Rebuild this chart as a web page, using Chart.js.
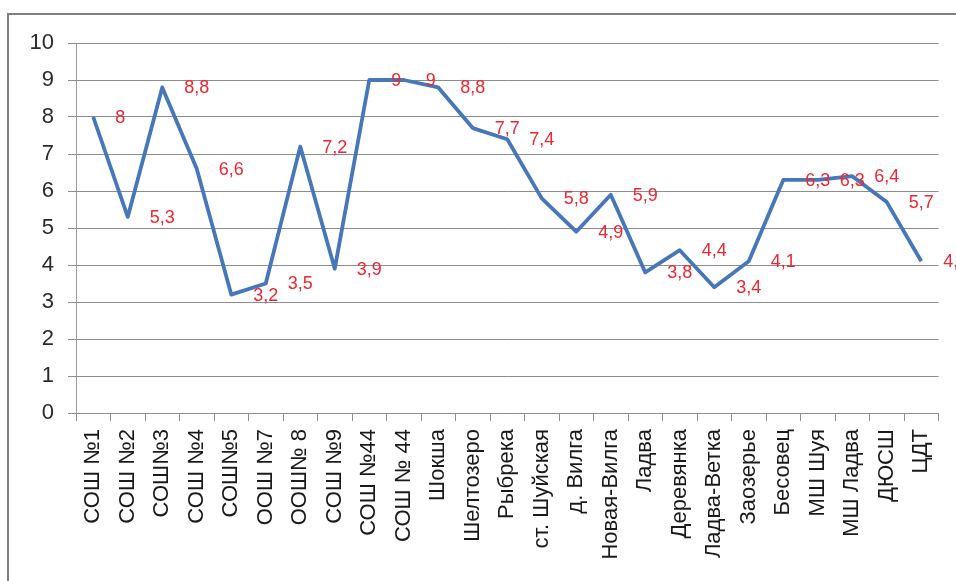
<!DOCTYPE html>
<html>
<head>
<meta charset="utf-8">
<script src="https://cdn.jsdelivr.net/npm/chart.js@4"></script>
<style>
    body { margin: 0; background: #fff; overflow: hidden; }
    #frame { position: absolute; left: 7px; top: 13px; width: 1000px; height: 640px; border: 2px solid #7f7f7f; }
    #chart { position: absolute; left: 0; top: 0; }
</style>
</head>
<body>
<div id="frame"></div>
<canvas id="chart" width="956" height="581"></canvas>
<script>
// schools
const categories = ['СОШ №1', 'СОШ №2', 'СОШ№3', 'СОШ №4', 'СОШ№5', 'ООШ №7', 'ООШ№ 8', 'СОШ №9',
    'СОШ №44', 'СОШ № 44', 'Шокша', 'Шелтозеро', 'Рыбрека', 'ст. Шуйская', 'д. Вилга', 'Новая-Вилга',
    'Ладва', 'Деревянка', 'Ладва-Ветка', 'Заозерье', 'Бесовец', 'МШ Шуя', 'МШ Ладва', 'ДЮСШ', 'ЦДТ'];
const values = [8, 5.3, 8.8, 6.6, 3.2, 3.5, 7.2, 3.9, 9, 9, 8.8, 7.7, 7.4, 5.8, 4.9, 5.9,
    3.8, 4.4, 3.4, 4.1, 6.3, 6.3, 6.4, 5.7, 4.1];
const yMin = 0;
const yMax = 10;
const yStep = 1;

const FONT = '"Liberation Sans", Arial, sans-serif';

// draws the red value labels to the right of each point (excel style)
const valueLabels = {
    id: 'valueLabels',
    afterDatasetsDraw(chart) {
        const ctx = chart.ctx;
        const meta = chart.getDatasetMeta(0);
        ctx.save();
        ctx.font = '18px ' + FONT;
        ctx.fillStyle = '#ee2630';
        ctx.textAlign = 'left';
        ctx.textBaseline = 'middle';
        meta.data.forEach((pt, i) => {
            const txt = String(values[i]).replace('.', ',');
            ctx.fillText(txt, pt.x + 22, pt.y + 1);
        });
        ctx.restore();
    }
};

new Chart(document.getElementById('chart').getContext('2d'), {
    type: 'line',
    data: {
        labels: categories,
        datasets: [{
            data: values,
            borderColor: '#4677b8',
            borderWidth: 3.8,
            borderJoinStyle: 'round',
            tension: 0,
            pointRadius: 0,
            fill: false
        }]
    },
    options: {
        responsive: false,
        animation: false,
        layout: { padding: { top: 43, right: 17, left: 0, bottom: 0 } },
        plugins: { legend: { display: false }, tooltip: { enabled: false } },
        scales: {
            x: {
                offset: true,
                grid: { offset: true, drawOnChartArea: false, tickLength: 8, color: '#8c8c8c' },
                border: { color: '#8c8c8c' },
                ticks: {
                    autoSkip: false,
                    minRotation: 90,
                    maxRotation: 90,
                    padding: 8,
                    color: '#1a1a1a',
                    font: { family: FONT, size: 22 }
                },
                afterFit(scale) { scale.height = 168; }
            },
            y: {
                min: yMin,
                max: yMax,
                grid: { tickLength: 8, color: '#8c8c8c' },
                border: { color: '#9a9a9a' },
                ticks: {
                    stepSize: yStep,
                    padding: 14,
                    color: '#2a2a2a',
                    font: { family: FONT, size: 22 }
                },
                afterFit(scale) { scale.width = 76; }
            }
        }
    },
    plugins: [valueLabels]
});
</script>
</body>
</html>
